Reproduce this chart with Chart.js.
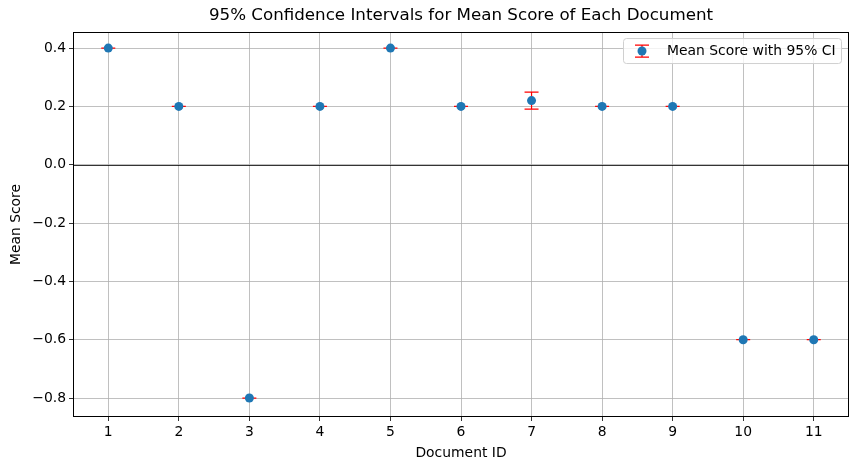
<!DOCTYPE html>
<html>
<head>
<meta charset="utf-8">
<script src="https://cdn.jsdelivr.net/npm/chart.js@4.4.1/dist/chart.umd.min.js"></script>
<style>
  html, body { margin: 0; padding: 0; background: #fff; }
  canvas { display: block; }
</style>
</head>
<body>
<canvas id="chart" width="857" height="470"></canvas>
<script>
// data
const docIds     = [1, 2, 3, 4, 5, 6, 7, 8, 9, 10, 11]
const meanScores = [0.4, 0.2, -0.8, 0.2, 0.4, 0.2, 0.22, 0.2, 0.2, -0.6, -0.6]
const ciLower    = [0.4, 0.2, -0.8, 0.2, 0.4, 0.2, 0.191, 0.2, 0.2, -0.6, -0.6]
const ciUpper    = [0.4, 0.2, -0.8, 0.2, 0.4, 0.2, 0.249, 0.2, 0.2, -0.6, -0.6]
const yTicks     = [-0.8, -0.6, -0.4, -0.2, 0.0, 0.2, 0.4]

const FONT = "'DejaVu Sans', sans-serif"
const BLUE = '#1f77b4'
const RED  = '#ff0000'
const TICK = 13.9

Chart.defaults.font.family = FONT
Chart.defaults.color = '#000'

const fmt = v => v.toFixed(1).replace('-', '\u2212')

// red error bars with caps, drawn under the points
function drawErrorBar(c, x, yLo, yHi, cap) {
  c.beginPath()
  c.moveTo(x, yLo); c.lineTo(x, yHi)
  c.moveTo(x - cap, yLo); c.lineTo(x + cap, yLo)
  c.moveTo(x - cap, yHi); c.lineTo(x + cap, yHi)
  c.stroke()
}

const errorBarPlugin = {
  id: 'errorBars',
  beforeDatasetsDraw(chart) {
    const { ctx: c, scales: { x, y }, chartArea: a } = chart
    c.save()
    // zero line
    c.strokeStyle = '#000'
    c.lineWidth = 0.8
    c.beginPath()
    const y0 = Math.round(y.getPixelForValue(0)) + 0.5
    c.moveTo(a.left, y0); c.lineTo(a.right, y0)
    c.stroke()

    c.strokeStyle = RED
    c.lineWidth = 1.2
    docIds.forEach((d, i) => {
      const px = x.getPixelForValue(d)
      drawErrorBar(c, px, y.getPixelForValue(ciLower[i]), y.getPixelForValue(ciUpper[i]), 7)
    })
    c.restore()
  },
  afterDraw(chart) {
    const { ctx: c, chartArea: a } = chart
    c.save()
    // frame on all four sides
    c.strokeStyle = '#000'
    c.lineWidth = 1
    c.strokeRect(Math.round(a.left) + 0.5, Math.round(a.top) + 0.5,
      Math.round(a.right - a.left) - 1, Math.round(a.bottom - a.top) - 1)

    // legend box, top right
    const bw = 218, bh = 25
    const bx = a.right - 8 - bw, by = a.top + 6
    c.fillStyle = 'rgba(255,255,255,0.8)'
    c.strokeStyle = '#d0d0d0'
    c.lineWidth = 1
    c.beginPath()
    c.roundRect(bx + 0.5, by + 0.5, bw, bh, 3)
    c.fill(); c.stroke()

    const ix = bx + 19, iy = by + bh / 2 + 0.5
    c.strokeStyle = RED
    c.lineWidth = 1.2
    drawErrorBar(c, ix, iy + 6, iy - 6, 7)
    c.fillStyle = BLUE
    c.beginPath()
    c.arc(ix, iy, 4.5, 0, Math.PI * 2)
    c.fill()

    c.fillStyle = '#000'
    c.font = TICK + 'px ' + FONT
    c.textBaseline = 'middle'
    c.fillText('Mean Score with 95% CI', bx + 44, iy)
    c.restore()
  }
}

new Chart(document.getElementById('chart'), {
  type: 'scatter',
  plugins: [errorBarPlugin],
  data: {
    datasets: [{
      label: 'Mean Score with 95% CI',
      data: docIds.map((d, i) => ({ x: d, y: meanScores[i] })),
      backgroundColor: BLUE,
      borderColor: BLUE,
      borderWidth: 0,
      pointRadius: 4.5,
      pointHoverRadius: 4.5
    }]
  },
  options: {
    responsive: false,
    animation: false,
    events: [],
    layout: { padding: { left: 0, right: 8, top: 0, bottom: 0 } },
    plugins: {
      legend: { display: false },
      tooltip: { enabled: false },
      title: {
        display: true,
        fullSize: false,
        text: '95% Confidence Intervals for Mean Score of Each Document',
        color: '#000',
        font: { size: 16.7, weight: 'normal', family: FONT },
        padding: { top: 6, bottom: 6 }
      }
    },
    scales: {
      x: {
        type: 'linear',
        min: 0.5, max: 11.5,
        afterBuildTicks: s => { s.ticks = docIds.map(v => ({ value: v })) },
        afterFit: s => { s.height = 53 },
        ticks: { color: '#000', font: { size: TICK }, padding: 3, callback: v => String(v) },
        grid: { color: '#b0b0b0', lineWidth: 0.8, tickColor: '#000', tickLength: 4 },
        border: { display: false },
        title: { display: true, text: 'Document ID', color: '#000', font: { size: TICK }, padding: { top: 0, bottom: 8 } }
      },
      y: {
        min: -0.865, max: 0.455,
        afterBuildTicks: s => { s.ticks = yTicks.map(v => ({ value: v })) },
        afterFit: s => { s.width = 73 },
        ticks: { color: '#000', font: { size: TICK }, padding: 3, callback: v => fmt(v) },
        grid: { color: '#b0b0b0', lineWidth: 0.8, tickColor: '#000', tickLength: 4 },
        border: { display: false },
        title: { display: true, text: 'Mean Score', color: '#000', font: { size: TICK }, padding: { top: 8, bottom: 0 } }
      }
    }
  }
})
</script>
</body>
</html>
